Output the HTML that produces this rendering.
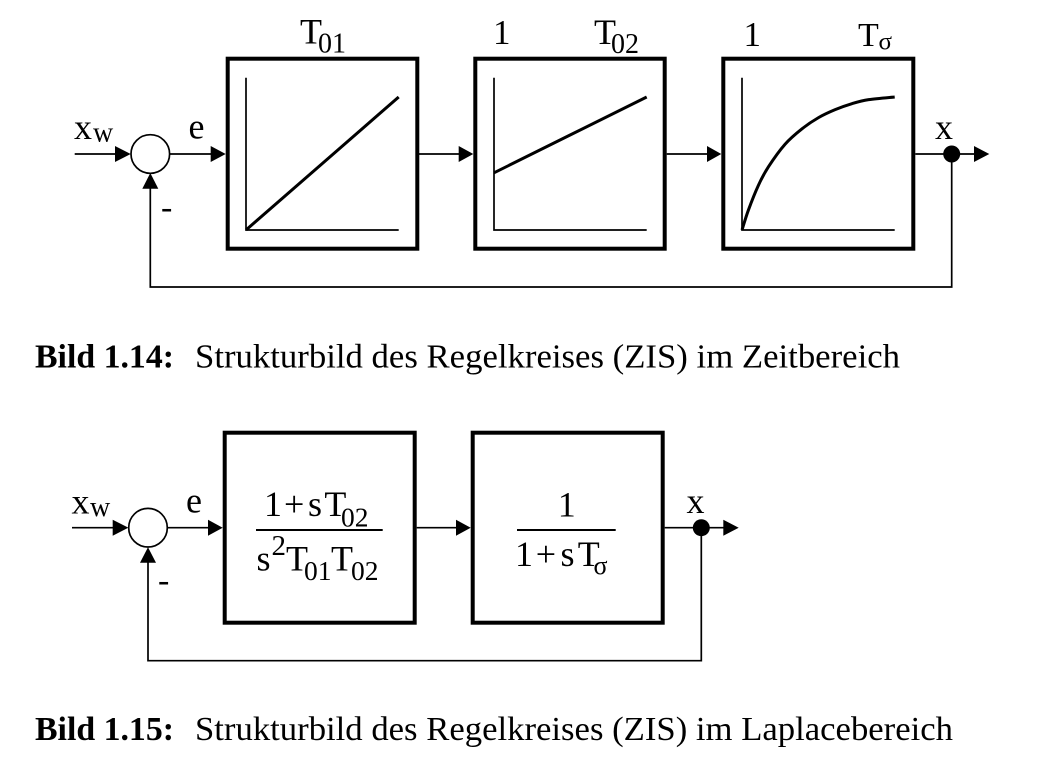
<!DOCTYPE html>
<html lang="de">
<head>
<meta charset="utf-8">
<title>Strukturbild des Regelkreises</title>
<style>
html,body{margin:0;padding:0;background:#fff;width:1040px;height:763px;overflow:hidden}
svg{display:block}
text{font-family:"Liberation Serif","DejaVu Serif",serif;fill:#000}
.m{font-size:36px}
.s{font-size:28px}
.l{fill:none;stroke:#000;stroke-width:1.7}
.b{fill:#fff;stroke:#000;stroke-width:4}
.a{fill:#000;stroke:none}
.c{fill:none;stroke:#000;stroke-width:3}
</style>
</head>
<body>
<svg id="diagram" xmlns="http://www.w3.org/2000/svg" width="1040" height="763" viewBox="0 0 1040 763">
<rect width="1040" height="763" fill="#fff"/>

<!-- Figure 1.14 -->
<g>
  <path class="l" d="M74.7 154H116"/>
  <polygon class="a" points="115,146 130.7,154 115,162"/>
  <circle cx="150.3" cy="154" r="19.3" fill="#fff" stroke="#000" stroke-width="1.7"/>
  <path class="l" d="M169.6 154H212"/>
  <polygon class="a" points="210.7,146 225.7,154 210.7,162"/>
  <rect class="b" x="227.7" y="58.7" width="189.6" height="190"/>
  <path class="l" d="M419 154H460"/>
  <polygon class="a" points="458.7,146 473.3,154 458.7,162"/>
  <rect class="b" x="475.3" y="58.7" width="189.4" height="190"/>
  <path class="l" d="M666.7 154H708"/>
  <polygon class="a" points="707,146 721.3,154 707,162"/>
  <rect class="b" x="723.3" y="58.7" width="190" height="190"/>
  <path class="l" d="M915.3 154H975"/>
  <polygon class="a" points="974,146 989.3,154 974,162"/>
  <path class="l" d="M951.7 154V287H150.3V187"/>
  <polygon class="a" points="142.3,188.7 150.3,173 158.3,188.7"/>
  <circle cx="951.7" cy="154" r="8.5" fill="#000"/>

  <text class="m" x="74" y="139">x</text>
  <text class="s" x="93" y="141.5">w</text>
  <text class="m" x="188.5" y="138.5">e</text>
  <text font-size="34" x="161" y="218">-</text>
  <text class="m" x="935" y="139">x</text>
  <text font-size="36" x="300" y="43.5">T</text>
  <text font-size="28" x="318" y="52.5">01</text>
  <text font-size="35" x="493" y="44">1</text>
  <text font-size="36" x="594" y="44">T</text>
  <text font-size="28" x="611" y="53">02</text>
  <text font-size="35" x="743.5" y="46">1</text>
  <text font-size="34" x="858" y="46">T</text>
  <text font-size="25" x="878.5" y="49.5">σ</text>
</g>

<text font-size="33.5" font-weight="bold" x="35" y="367.5" textLength="139" lengthAdjust="spacingAndGlyphs">Bild 1.14:</text>
<text font-size="33.5" x="195" y="367.5" textLength="705" lengthAdjust="spacingAndGlyphs">Strukturbild des Regelkreises (ZIS) im Zeitbereich</text>

<!-- Figure 1.15 -->
<g>
  <path class="l" d="M72 527.7H114"/>
  <polygon class="a" points="112.7,519.7 128.3,527.7 112.7,535.7"/>
  <circle cx="148" cy="527.7" r="19.3" fill="#fff" stroke="#000" stroke-width="1.7"/>
  <path class="l" d="M167.3 527.7H209"/>
  <polygon class="a" points="208,519.7 222.7,527.7 208,535.7"/>
  <rect class="b" x="224.7" y="432.7" width="190" height="190"/>
  <path class="l" d="M416.7 527.7H457"/>
  <polygon class="a" points="456,519.7 470.7,527.7 456,535.7"/>
  <rect class="b" x="472.7" y="432.7" width="190" height="190"/>
  <path class="l" d="M664.7 527.7H724"/>
  <polygon class="a" points="723.3,519.7 738.7,527.7 723.3,535.7"/>
  <path class="l" d="M701.3 527.7V660.7H148V561"/>
  <polygon class="a" points="140,562.7 148,547.3 156,562.7"/>
  <circle cx="701.3" cy="527.7" r="8.5" fill="#000"/>
  <path class="l" style="stroke-width:2" d="M256 530H382.7"/>
  <path class="l" style="stroke-width:2" d="M517 530H615.7"/>

  <text class="m" x="71.5" y="513.5">x</text>
  <text class="s" x="90" y="516">w</text>
  <text class="m" x="186" y="512.5">e</text>
  <text font-size="34" x="158" y="591">-</text>
  <text class="m" x="686.5" y="513">x</text>

  <text font-size="36" x="264" y="516">1</text>
  <text font-size="36" x="284" y="516">+</text>
  <text font-size="36" x="308" y="516">s</text>
  <text font-size="36" x="324.4" y="516">T</text>
  <text font-size="27.5" x="341" y="526.5">02</text>

  <text font-size="36" x="256.5" y="570.7">s</text>
  <text font-size="29" x="271.5" y="555">2</text>
  <text font-size="36" x="286" y="570.7">T</text>
  <text font-size="27.5" x="304" y="580">01</text>
  <text font-size="36" x="331" y="570.7">T</text>
  <text font-size="27.5" x="351" y="580">02</text>

  <text font-size="36" x="557.7" y="516.5">1</text>
  <text font-size="36" x="515" y="566">1</text>
  <text font-size="36" x="535.7" y="566">+</text>
  <text font-size="36" x="560.5" y="566">s</text>
  <text font-size="36" x="577.7" y="566">T</text>
  <text font-size="26" x="593.5" y="574">σ</text>
</g>

<text font-size="33.5" font-weight="bold" x="35" y="740" textLength="139" lengthAdjust="spacingAndGlyphs">Bild 1.15:</text>
<text font-size="33.5" x="195" y="740" textLength="758" lengthAdjust="spacingAndGlyphs">Strukturbild des Regelkreises (ZIS) im Laplacebereich</text>

<g id="plots"></g>
</svg>

<script>
// Step-response sketches, normalised time (0..1) and amplitude (0..1)
const rampTime = [0, 1];
const rampValues = [0, 1];
const piTime = [0, 1];
const piValues = [0.43, 1];
const lagTime = [0, 0.042, 0.107, 0.173, 0.282, 0.392, 0.501, 0.61, 0.72, 0.83, 1];
const lagValues = [0, 0.15, 0.335, 0.475, 0.645, 0.76, 0.845, 0.905, 0.95, 0.98, 1];

const NS = 'http://www.w3.org/2000/svg';
const plotsGroup = document.getElementById('plots');
const AXIS_WIDTH = 152.7;
const AXIS_HEIGHT = 133;
const AXIS_BOTTOM = 230;
const AXIS_TOP = 77.7;

function xAxis(origin, t) { return origin + t * AXIS_WIDTH; }
function yAxis(v) { return AXIS_BOTTOM - v * AXIS_HEIGHT; }

function curvePath(origin, times, values) {
  const p = times.map(function (t, i) { return [xAxis(origin, t), yAxis(values[i])]; });
  let d = 'M' + p[0][0] + ' ' + p[0][1];
  for (let i = 0; i < p.length - 1; i++) {
    const p0 = p[Math.max(i - 1, 0)];
    const p1 = p[i];
    const p2 = p[i + 1];
    const p3 = p[Math.min(i + 2, p.length - 1)];
    d += 'C' + (p1[0] + (p2[0] - p0[0]) / 6) + ' ' + (p1[1] + (p2[1] - p0[1]) / 6) + ' ' +
         (p2[0] - (p3[0] - p1[0]) / 6) + ' ' + (p2[1] - (p3[1] - p1[1]) / 6) + ' ' +
         p2[0] + ' ' + p2[1];
  }
  return d;
}

function drawAxes(origin, name) {
  const axes = document.createElementNS(NS, 'path');
  axes.setAttribute('d', 'M' + origin + ' ' + AXIS_TOP + 'V' + AXIS_BOTTOM + 'H' + xAxis(origin, 1));
  axes.setAttribute('class', 'l');
  
  
  plotsGroup.appendChild(axes);
}

function drawCurve(origin, times, values, name) {
  const curve = document.createElementNS(NS, 'path');
  curve.setAttribute('d', curvePath(origin, times, values));
  curve.setAttribute('class', 'c');
  
  
  plotsGroup.appendChild(curve);
}

drawAxes(246, 'integrator');
drawCurve(246, rampTime, rampValues, 'integrator');
drawAxes(494, 'pi');
drawCurve(494, piTime, piValues, 'pi');
drawAxes(742, 'lag');
drawCurve(742, lagTime, lagValues, 'lag');
</script>
</body>
</html>
